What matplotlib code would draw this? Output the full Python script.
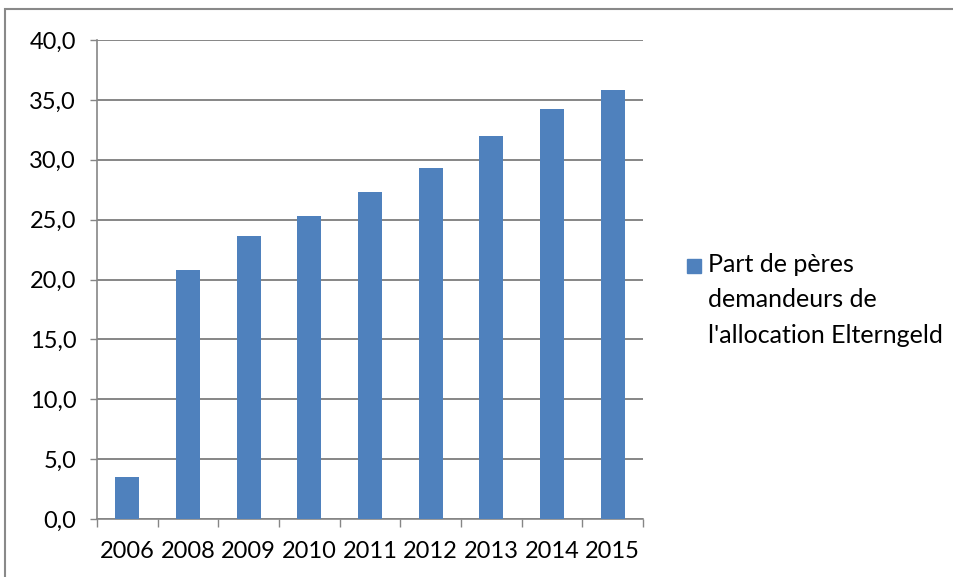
import matplotlib
matplotlib.use("Agg")
import matplotlib.pyplot as plt
from matplotlib.ticker import FuncFormatter, MultipleLocator, FixedLocator
from matplotlib.patches import Rectangle

# Data
years = ["2006", "2008", "2009", "2010", "2011", "2012", "2013", "2014", "2015"]
share_fathers = [3.5, 20.8, 23.6, 25.3, 27.3, 29.3, 32.0, 34.2, 35.8]
legend_label = "Part de pères\ndemandeurs de\nl'allocation Elterngeld"

bar_color = "#4F81BD"
grid_color = "#868686"

plt.rcParams["font.family"] = ["Lato", "DejaVu Sans"]

fig = plt.figure(figsize=(9.54, 5.77), dpi=100)
W, H = 954, 577
ax = fig.add_axes([97 / W, 1 - 519 / H, (643 - 97) / W, (519 - 40) / H])

x = list(range(len(years)))
ax.bar(x, share_fathers, width=0.4, color=bar_color, zorder=3)

ax.set_xlim(-0.5, len(years) - 0.5)
ax.set_ylim(0, 40)

# y axis
ax.yaxis.set_major_locator(MultipleLocator(5))
ax.yaxis.set_major_formatter(FuncFormatter(lambda v, p: f"{v:.1f}".replace(".", ",")))
ax.grid(axis="y", color=grid_color, linewidth=1.4, zorder=0)
ax.tick_params(axis="y", length=5, width=1, color=grid_color, pad=10,
               labelsize=17, labelcolor="black")

# x axis: labels at centers, ticks at category borders
ax.set_xticks(x)
ax.set_xticklabels(years)
ax.tick_params(axis="x", which="major", length=0, pad=16, labelsize=17,
               labelcolor="black")
ax.xaxis.set_minor_locator(FixedLocator([i - 0.5 for i in range(len(years) + 1)]))
ax.tick_params(axis="x", which="minor", length=6, width=1, color=grid_color)

for s in ["top", "right"]:
    ax.spines[s].set_visible(False)
for s in ["left", "bottom"]:
    ax.spines[s].set_color(grid_color)
    ax.spines[s].set_linewidth(1.2)

# legend drawn by hand so the marker sits on the first line
fig.patches.append(Rectangle((687 / W, 1 - 273 / H), 14 / W, 14 / H,
                             transform=fig.transFigure, color=bar_color))
fig.text(708 / W, 1 - 253 / H, legend_label, ha="left", va="top",
         fontsize=18, linespacing=1.65)

# outer chart border (right and bottom edges lie outside the image)
fig.patches.append(Rectangle((5 / W, -0.05), 1.1, 1 - 9 / H + 0.05,
                             transform=fig.transFigure, fill=False,
                             edgecolor="#898989", linewidth=1.5))

fig.savefig("out.png", dpi=100)
